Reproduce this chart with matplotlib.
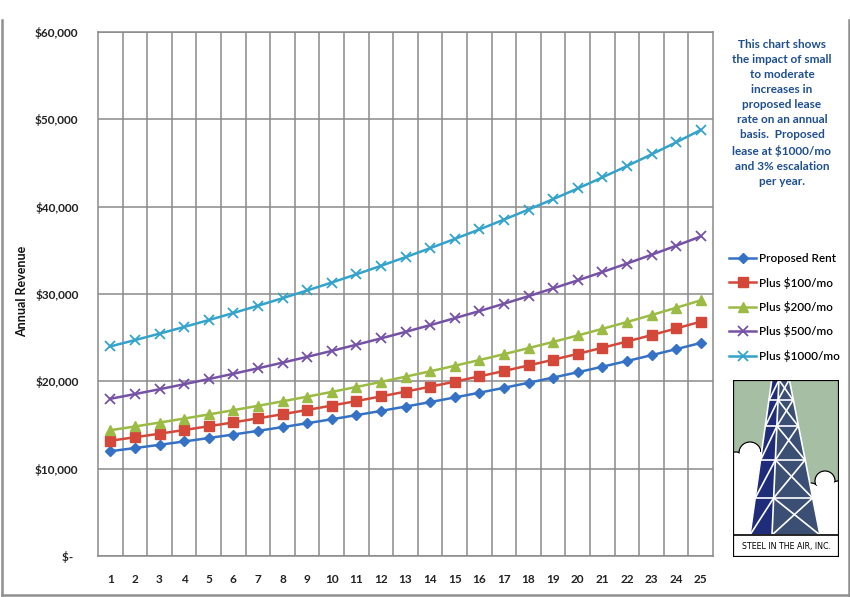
import matplotlib
matplotlib.use("Agg")
import matplotlib.pyplot as plt
from matplotlib.lines import Line2D
from matplotlib.patches import Polygon, Circle, Rectangle

years = list(range(1, 26))

proposed_rent = [12000, 12360, 12731, 13113, 13506, 13911, 14329, 14758, 15201, 15657,
                 16127, 16611, 17109, 17622, 18151, 18696, 19256, 19834, 20429, 21042,
                 21673, 22324, 22993, 23683, 24394]
plus_100 = [13200, 13596, 14004, 14424, 14857, 15302, 15761, 16234, 16721, 17223,
            17740, 18272, 18820, 19385, 19966, 20565, 21182, 21818, 22472, 23146,
            23841, 24556, 25293, 26051, 26833]
plus_200 = [14400, 14832, 15277, 15735, 16207, 16694, 17194, 17710, 18241, 18789,
            19352, 19933, 20531, 21147, 21781, 22435, 23108, 23801, 24515, 25250,
            26008, 26788, 27592, 28420, 29272]
plus_500 = [18000, 18540, 19096, 19669, 20259, 20867, 21493, 22138, 22802, 23486,
            24190, 24916, 25664, 26434, 27227, 28043, 28885, 29751, 30644, 31563,
            32510, 33485, 34490, 35525, 36590]
plus_1000 = [24000, 24720, 25462, 26225, 27012, 27823, 28657, 29517, 30402, 31315,
             32254, 33222, 34218, 35245, 36302, 37391, 38513, 39668, 40858, 42084,
             43347, 44647, 45986, 47366, 48787]

series_names = ["Proposed Rent", "Plus $100/mo", "Plus $200/mo", "Plus $500/mo", "Plus $1000/mo"]
y_ticks = [0, 10000, 20000, 30000, 40000, 50000, 60000]
y_tick_labels = ["$-  ", "$10,000", "$20,000", "$30,000", "$40,000", "$50,000", "$60,000"]

note = ("This chart shows\nthe impact of small\nto moderate\nincreases in\nproposed lease\n"
        "rate on an annual\nbasis.  Proposed\nlease at $1000/mo\nand 3% escalation\nper year.")

plt.rcParams["font.family"] = ["Lato", "DejaVu Sans"]

fig = plt.figure(figsize=(8.5, 5.97), dpi=100)
W, H = 850, 597
ax = fig.add_axes([98 / W, 1 - 556 / H, 615 / W, 524 / H])

styles = [
    dict(color="#3572C6", marker="D", markersize=5.5),
    dict(color="#D4483A", marker="s", markersize=6.5),
    dict(color="#9BBB45", marker="^", markersize=7.5),
    dict(color="#7552A6", marker="x", markersize=7, markeredgewidth=1.3),
    dict(color="#33A3CC", marker="x", markersize=7, markeredgewidth=1.3),
]
for vals, name, st in zip([proposed_rent, plus_100, plus_200, plus_500, plus_1000], series_names, styles):
    ax.plot(years, vals, label=name, linewidth=1.8, zorder=3, **st)

ax.set_xlim(0.5, 25.5)
ax.set_ylim(0, 60000)
ax.set_xticks(years)
ax.set_xticklabels([str(y) for y in years], fontsize=8.5, fontweight="bold", color="#222222")
ax.set_xticks([y + 0.5 for y in years[:-1]], minor=True)
ax.set_yticks(y_ticks)
ax.set_yticklabels(y_tick_labels, fontsize=8.5, fontweight="bold", color="#222222")
ax.tick_params(axis="both", which="both", length=0)
ax.tick_params(axis="x", pad=13)
ax.tick_params(axis="y", pad=14)
ax.grid(True, axis="y", which="major", color="#8a8a8a", linewidth=1.1)
ax.grid(True, axis="x", which="minor", color="#8a8a8a", linewidth=1.1)
ax.grid(False, axis="x", which="major")
for s in ax.spines.values():
    s.set_color("#8a8a8a")
    s.set_linewidth(1.1)

fig.text(22 / W, 1 - 291 / H, "Annual Revenue", rotation=90, ha="center", va="center",
         fontsize=9, fontweight="bold", color="#111111")

fig.text(782 / W, 1 - 113 / H, note, ha="center", va="center", fontsize=8.5,
         fontweight="bold", color="#1F4F8F", linespacing=1.45)

fig.legend(loc="center left", bbox_to_anchor=(729 / W, 1 - 307.5 / H), frameon=False,
           handlelength=2.3, handletextpad=0.2, labelspacing=1.05,
           borderpad=0, borderaxespad=0, prop={"weight": "semibold", "size": 8.5})

# frame around the picture
frame_kw = dict(color="#8f8f8f", linewidth=1.8, transform=fig.transFigure)
fig.add_artist(Line2D([1.5 / W, 1.5 / W], [1 - 20 / H, 1 - 595 / H], **frame_kw))
fig.add_artist(Line2D([848.5 / W, 848.5 / W], [1 - 20 / H, 1 - 595 / H], **frame_kw))
fig.add_artist(Line2D([1.5 / W, 848.5 / W], [1 - 595 / H, 1 - 595 / H], **frame_kw))

# company logo (simple drawing)
lg = fig.add_axes([733 / W, 1 - 557 / H, 106 / W, 177 / H])
lg.set_xlim(0, 106)
lg.set_ylim(177, 0)
lg.axis("off")
lg.add_patch(Rectangle((0, 0), 106, 177, facecolor="#A6BEA3", edgecolor="none", zorder=0))
left_clouds = [(3, 82, 10), (17, 73, 11), (30, 80, 9)]
right_clouds = [(78, 112, 9), (92, 101, 10), (105, 109, 8)]
for cx, cy, r in left_clouds + right_clouds:
    lg.add_patch(Circle((cx, cy), r, facecolor="white", edgecolor="black", linewidth=0.9, zorder=1))
for cx, cy, r in left_clouds + right_clouds:
    lg.add_patch(Circle((cx, cy), r - 0.9, facecolor="white", edgecolor="none", zorder=2))
lg.add_patch(Rectangle((0, 80), 36, 76, facecolor="white", edgecolor="none", zorder=2))
lg.add_patch(Rectangle((72, 106), 34, 50, facecolor="white", edgecolor="none", zorder=2))
lg.add_patch(Rectangle((30, 118), 50, 38, facecolor="white", edgecolor="none", zorder=2))

# tower faces
lg.add_patch(Polygon([(39, -2), (46, -2), (39, 155), (17, 155)], facecolor="#1E2C7A",
                     edgecolor="none", zorder=3))
lg.add_patch(Polygon([(46, -2), (56, -2), (87, 155), (39, 155)], facecolor="#3B4F75",
                     edgecolor="none", zorder=3))
levels = [0, 20, 46, 80, 118, 155]


def edge_x(y, top, bottom):
    return top + (bottom - top) * y / 155


kw = dict(color="white", linewidth=1.2, zorder=4, solid_capstyle="butt")
for y0, y1 in zip(levels[:-1], levels[1:]):
    l0, l1 = edge_x(y0, 39, 17), edge_x(y1, 39, 17)
    m0, m1 = edge_x(y0, 46, 39), edge_x(y1, 46, 39)
    r0, r1 = edge_x(y0, 56, 87), edge_x(y1, 56, 87)
    lg.plot([m0, r1], [y0, y1], **kw)
    lg.plot([r0, m1], [y0, y1], **kw)
    lg.plot([m0, l1], [y0, y1], **kw)
    lg.plot([l1, r1], [y1, y1], **kw)
lg.plot([39, 17], [-2, 155], **kw)
lg.plot([46, 39], [-2, 155], **kw)
lg.plot([56, 87], [-2, 155], **kw)
lg.add_patch(Rectangle((0, 155), 106, 22, facecolor="white", edgecolor="black", linewidth=1.2, zorder=5))
lg.add_patch(Rectangle((0, 0), 106, 177, facecolor="none", edgecolor="black", linewidth=1.6, zorder=6))
lg.text(53, 166.5, "STEEL IN THE AIR, INC.", ha="center", va="center", fontsize=6.3,
        family="DejaVu Sans", stretch="condensed", color="black", zorder=7)

fig.savefig("out.png", dpi=100)
